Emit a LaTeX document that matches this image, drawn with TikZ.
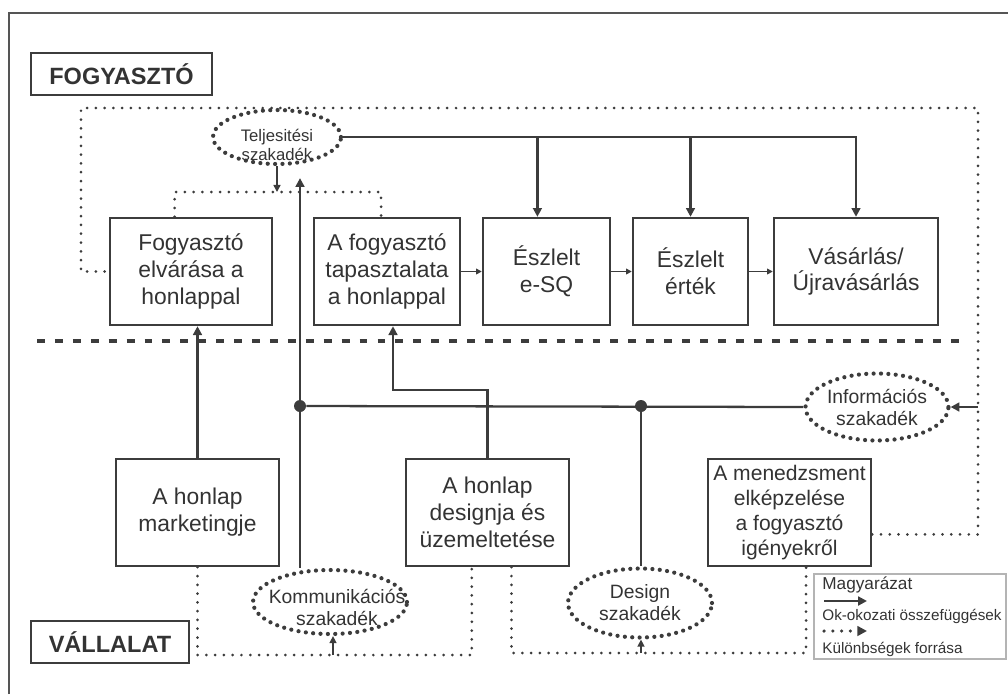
\documentclass[tikz,border=0pt]{standalone}
\usepackage{fontspec}
\setmainfont{Liberation Sans}
\usetikzlibrary{shapes.geometric,arrows.meta,calc}
\definecolor{linegray}{HTML}{3C3C3C}
\definecolor{textgray}{HTML}{333333}
\definecolor{framegray}{HTML}{555555}
\definecolor{legendgray}{HTML}{B4B4B4}
\tikzset{
  box/.style={draw=linegray, line width=1.4pt, text=textgray, align=center, inner sep=0pt,
    minimum height=2.14cm, font=\fontsize{13}{15.3}\selectfont},
  party/.style={draw=linegray, line width=1.4pt, text=textgray, inner sep=0pt,
    minimum height=0.84cm, font=\bfseries\fontsize{13.4}{15}\selectfont},
  gap/.style={ellipse, draw=linegray, line width=2.4pt, dash pattern=on 0pt off 4.2pt,
    line cap=round, inner sep=0pt},
  gaptext/.style={text=textgray, align=center, font=\fontsize{11}{12.5}\selectfont},
  legendtext/.style={text=textgray, anchor=west, inner sep=0pt, font=\fontsize{8.7}{10}\selectfont},
  cause/.style={draw=linegray, line width=1.3pt, -{Triangle[length=5pt,width=5pt]}},
  link/.style={draw=linegray, line width=1.3pt},
  smallcause/.style={draw=linegray, line width=0.9pt, -{Triangle[length=3.2pt,width=3.2pt]}},
  source/.style={draw=linegray, line width=1.7pt, dash pattern=on 0pt off 5pt, line cap=round},
  srcarrow/.style={draw=linegray, line width=0.8pt, -{Triangle[length=4pt,width=4pt]}},
  junction/.style={circle, fill=linegray, inner sep=0pt, minimum size=0.24cm},
  divider/.style={draw=linegray, line width=2.4pt, dash pattern=on 4.5pt off 5.7pt},
  frame/.style={draw=framegray, line width=1.3pt}
}
\begin{document}
\begin{tikzpicture}[x=0.02cm, y=-0.02cm]
\useasboundingbox (0,0) rectangle (1008,694);
\draw[frame] (9,694) -- (9,13) -- (1008,13);
\node[party, minimum width=3.62cm] (fogy) at (121.5,74) {FOGYASZTÓ};
\node[party, minimum width=3.16cm] (vall) at (110,642) {VÁLLALAT};
\node[gap, minimum width=2.56cm, minimum height=1.08cm,
  label={[gaptext, font=\fontsize{9.5}{11.3}\selectfont, yshift=-0.16cm]center:Teljesitési\\szakadék}] (tel) at (277,137) {};
\node[gap, minimum width=3.08cm, minimum height=1.28cm,
  label={[gaptext, xshift=0.14cm, yshift=-0.1cm]center:Kommunikációs\\szakadék}] (komm) at (330,602) {};
\node[gap, minimum width=2.88cm, minimum height=1.38cm,
  label={[gaptext]center:Design\\szakadék}] (desgap) at (640,603) {};
\node[gap, minimum width=2.86cm, minimum height=1.34cm,
  label={[gaptext]center:Információs\\szakadék}] (info) at (877,407) {};
\node[box, minimum width=3.24cm] (elvar) at (191,271.5) {Fogyasztó\\elvárása a\\honlappal};
\node[box, minimum width=2.92cm] (tapasz) at (387,271.5) {A fogyasztó\\tapasztalata\\a honlappal};
\node[box, minimum width=2.54cm] (esq) at (546.5,271.5) {Észlelt\\e-SQ};
\node[box, minimum width=2.30cm] (ertek) at (690.5,271.5) {Észlelt\\érték};
\node[box, minimum width=3.28cm] (vasar) at (856,271.5) {Vásárlás/\\Újravásárlás};
\node[box, minimum width=3.26cm] (mark) at (197.5,512.5) {A honlap\\marketingje};
\node[box, minimum width=3.26cm] (design) at (487.5,512.5) {A honlap\\designja és\\üzemeltetése};
\node[box, minimum width=3.26cm, font=\fontsize{12}{14.2}\selectfont] (menedzs) at (789.5,512.5)
  {A menedzsment\\elképzelése\\a fogyasztó\\igényekről};
\node[junction] (kommjoin) at (300,406) {};
\node[junction] (desjoin) at (641,406) {};
\coordinate (esqin) at ($(esq.north)!0.14!(esq.north west)$);
\coordinate (elvin) at ($(elvar.north west)!0.4!(elvar.north east)$);
\coordinate (tapin) at ($(tapasz.north west)!0.46!(tapasz.north east)$);
\coordinate (telsrc) at (277,192);
\coordinate (loopL) at (81,108);
\coordinate (loopR) at (978,108);
\coordinate (menin) at ($(menedzs.east)!0.4!(menedzs.south east)$);
\coordinate (designbend) at (393,390);
\coordinate (desout1) at ($(design.south)!0.19!(design.south west)$);
\coordinate (desout2) at ($(design.south)!0.29!(design.south east)$);
\coordinate (menout) at ($(menedzs.south)!0.2!(menedzs.south east)$);
\coordinate (kommsrc) at (333,655);
\coordinate (dessrc) at (641,653);
\draw[divider] (37,341) -- (964,341);
\draw[cause] (tel.east) -| (vasar.north);
\draw[cause] (tel.east -| esqin) -- (esqin);
\draw[cause] (tel.east -| ertek.north) -- (ertek.north);
\draw[srcarrow] (tel.south) -- (telsrc);
\draw[source] (elvin) -- (elvin |- telsrc) -- (tapin |- telsrc) -- (tapin);
\draw[cause, shorten >=0.24cm] (kommjoin |- komm.north) -- (kommjoin |- tel.south);
\draw[link] (kommjoin) -- (info.west);
\draw[link] (desjoin) -- (desjoin |- desgap.north);
\draw[cause] (info.east -| loopR) -- (info.east);
\draw[source] (menin) -| (loopR) -- (loopL) |- (elvar.west);
\draw[cause] (mark.north) -- (mark.north |- elvar.south);
\draw[cause] (design.north) |- (designbend) -- (designbend |- tapasz.south);
\draw[source] (mark.south) |- (kommsrc) -| (desout1);
\draw[srcarrow] (kommsrc) -- (kommsrc |- komm.south);
\draw[source] (desout2) |- (dessrc) -| (menout);
\draw[srcarrow] (dessrc) -- (dessrc |- desgap.south);
\path
  (tapasz) edge[smallcause] (esq)
  (esq) edge[smallcause] (ertek)
  (ertek) edge[smallcause] (vasar)
;
\node[draw=legendgray, line width=0.8pt, minimum width=3.84cm, minimum height=1.7cm, inner sep=0pt]
  (legend) at (910,616.5) {};
\node[legendtext, font=\fontsize{9.8}{11}\selectfont] (legtitle) at (822,585) {Magyarázat};
\node[legendtext] (legcause) at (822,616) {Ok-okozati összefüggések};
\node[legendtext] (legsrc) at (822,649) {Különbségek forrása};
\coordinate (legcauseA) at (824,601);
\coordinate (legcauseB) at (867,601);
\coordinate (legsrcA) at (824,631);
\coordinate (legsrcB) at (867,631);
\draw[cause, line width=1.5pt] (legcauseA) -- (legcauseB);
\draw[source, line width=2pt, -{Triangle[length=5.5pt,width=5.5pt]}] (legsrcA) -- (legsrcB);
\end{tikzpicture}
\end{document}
